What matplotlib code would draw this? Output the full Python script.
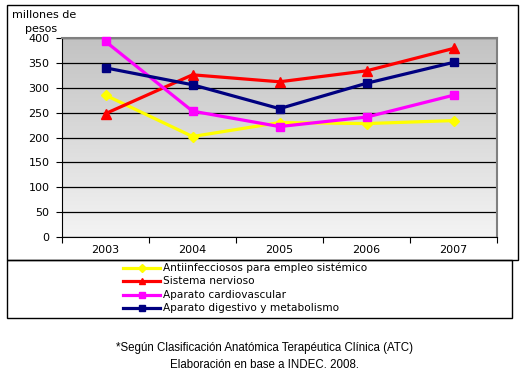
import matplotlib
matplotlib.use("Agg")
import matplotlib.pyplot as plt
import numpy as np
from matplotlib.patches import Rectangle
from matplotlib.lines import Line2D
from matplotlib.colors import LinearSegmentedColormap

years = ["2003", "2004", "2005", "2006", "2007"]
antiinfecciosos = [285, 202, 230, 228, 234]
sistema_nervioso = [248, 326, 312, 334, 379]
cardiovascular = [393, 253, 222, 241, 285]
digestivo = [340, 306, 258, 309, 351]
y_ticks = [0, 50, 100, 150, 200, 250, 300, 350, 400]

series = [
    ("Antiinfecciosos para empleo sistémico", antiinfecciosos, "#ffff00", "D", 5),
    ("Sistema nervioso", sistema_nervioso, "#ff0000", "^", 6.5),
    ("Aparato cardiovascular", cardiovascular, "#ff00ff", "s", 6),
    ("Aparato digestivo y metabolismo", digestivo, "#000080", "s", 6),
]

plt.rcParams['font.family'] = ['DejaVu Sans']
foot_font = ['Liberation Sans', 'DejaVu Sans']

W, H = 528, 374
fig = plt.figure(figsize=(W / 100, H / 100), dpi=100)
fig.patch.set_facecolor("white")

def fx(px):
    return px / W

def fy(py):
    return 1 - py / H

# plot area: x 62..497, y 38..237
ax = fig.add_axes([fx(62), fy(237), fx(497) - fx(62), fy(38) - fy(237)])

grad = np.linspace(0, 1, 256).reshape(-1, 1)
cmap = LinearSegmentedColormap.from_list("g", ["#f4f4f4", "#c2c2c2"])
ax.imshow(grad, extent=[0, 1, 0, 1], transform=ax.transAxes, cmap=cmap,
          aspect="auto", origin="lower", zorder=0)

x = np.arange(len(years))
for label, vals, color, mk, ms in series:
    ax.plot(x, vals, color=color, lw=2.3, marker=mk, ms=ms, mec=color,
            mfc=color, label=label, zorder=3, clip_on=False)

ax.set_xlim(-0.5, len(years) - 0.5)
ax.set_ylim(0, 400)
ax.set_yticks(y_ticks)
ax.set_yticklabels([str(v) for v in y_ticks], fontsize=8)
ax.yaxis.grid(True, color="black", lw=0.9, zorder=1)
for l in ax.get_ygridlines():
    l.set_zorder(1)

ax.set_xticks(np.arange(-0.5, len(years), 1.0))
ax.set_xticklabels([])
ax.set_xticks(x, minor=True)
ax.set_xticklabels(years, minor=True, fontsize=8)
ax.tick_params(axis="x", which="minor", length=0, pad=6)
ax.tick_params(axis="x", which="major", length=4, direction="out", width=0.8)
ax.tick_params(axis="y", length=4, direction="out", width=0.8, pad=5)

ax.spines["left"].set_color("black")
ax.spines["bottom"].set_color("black")
ax.spines["top"].set_color("#808080")
ax.spines["right"].set_color("#808080")
ax.spines["top"].set_linewidth(1.5)
ax.spines["right"].set_linewidth(1.5)

fig.text(fx(12), fy(15), "millones de", fontsize=8, ha="left", va="center")
fig.text(fx(25), fy(29), "pesos", fontsize=8, ha="left", va="center")

fig.add_artist(Rectangle((fx(7), fy(260)), fx(518) - fx(7), fy(5) - fy(260),
                         transform=fig.transFigure, fill=False, ec="black", lw=1))
fig.add_artist(Rectangle((fx(7), fy(317.5)), fx(512) - fx(7), fy(260) - fy(317.5),
                         transform=fig.transFigure, fill=False, ec="black", lw=1))

rows = [267.5, 281, 294.5, 308]
leg_ms = [4, 5, 5, 5]
for (label, vals, color, mk, ms), ry, lms in zip(series, rows, leg_ms):
    fig.add_artist(Line2D([fx(123), fx(160)], [fy(ry), fy(ry)], color=color, lw=2.3,
                          transform=fig.transFigure))
    fig.add_artist(Line2D([fx(141.5)], [fy(ry)], color=color, marker=mk, ms=lms,
                          mec=color, mfc=color, transform=fig.transFigure))
    fig.text(fx(163), fy(ry), label, fontsize=7.6, ha="left", va="center")

fig.text(0.5, fy(348), "*Según Clasificación Anatómica Terapéutica Clínica (ATC)",
         fontsize=8.3, ha="center", va="center", family=foot_font)
fig.text(0.5, fy(365), "Elaboración en base a INDEC. 2008.",
         fontsize=8.3, ha="center", va="center", family=foot_font)

fig.savefig("out.png", dpi=100)
